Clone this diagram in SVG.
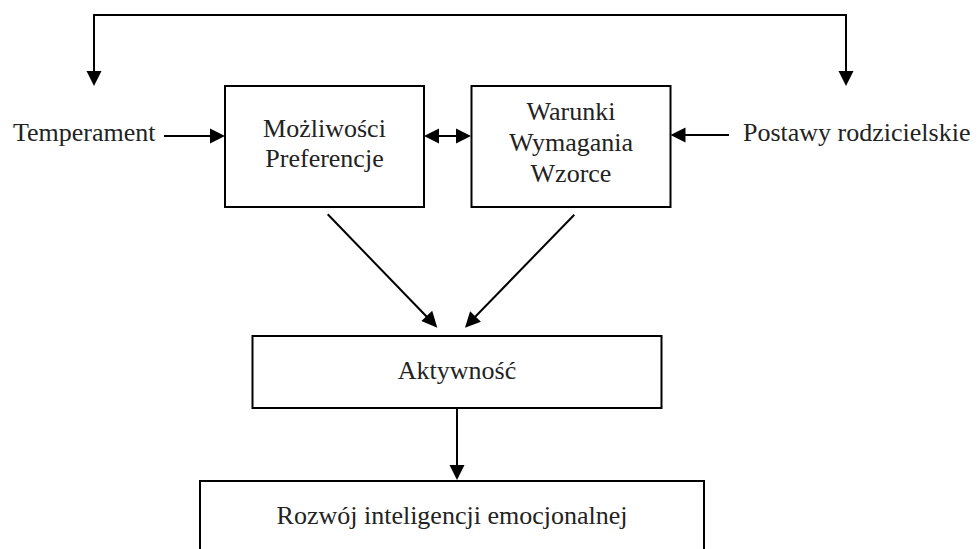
<svg xmlns="http://www.w3.org/2000/svg" width="979" height="549" viewBox="0 0 979 549">
<style>
.box{fill:#fff;stroke:#000;stroke-width:2}
.t{font-family:"Liberation Serif","Times New Roman",serif;font-size:26px;fill:#222}
.c{text-anchor:middle}
.ln{fill:none;stroke:#000;stroke-width:2}
.hd{fill:#000}
</style>
<rect width="979" height="549" fill="#fff"/>
<g id="connectors">
<polyline class="ln" points="94,72 94,15 846,15 846,72"/>
<polygon class="hd" points="86.5,71 101.5,71 94,86"/>
<polygon class="hd" points="838.5,71 853.5,71 846,86"/>
<line class="ln" x1="164" y1="136" x2="211" y2="136"/>
<polygon class="hd" points="210,128.5 225,136 210,143.5"/>
<line class="ln" x1="438" y1="136" x2="458" y2="136"/>
<polygon class="hd" points="439,128.5 424,136 439,143.5"/>
<polygon class="hd" points="456,128.5 471,136 456,143.5"/>
<line class="ln" x1="685" y1="135" x2="729" y2="135"/>
<polygon class="hd" points="685.5,127.5 670.5,135 685.5,142.5"/>
<line class="ln" x1="327.7" y1="214.3" x2="427" y2="317"/>
<polygon class="hd" points="437.3,327.7 421.4,321.1 432.2,310.7"/>
<line class="ln" x1="574.3" y1="214.7" x2="475" y2="317"/>
<polygon class="hd" points="465,327.7 470.1,311.3 480.9,321.7"/>
<line class="ln" x1="457" y1="408" x2="457" y2="466"/>
<polygon class="hd" points="449.5,465 464.5,465 457,480"/>
</g>
<g id="temperament"><text class="t" x="13" y="141">Temperament</text></g>
<g id="postawy"><text class="t" x="743" y="141">Postawy rodzicielskie</text></g>
<g id="mozliwosci">
<rect class="box" x="225" y="86" width="199" height="121"/>
<text class="t c" x="324.5" y="137">Możliwości</text>
<text class="t c" x="324.5" y="167">Preferencje</text>
</g>
<g id="warunki">
<rect class="box" x="471.5" y="86" width="199" height="121"/>
<text class="t c" x="571" y="120">Warunki</text>
<text class="t c" x="571" y="151">Wymagania</text>
<text class="t c" x="571" y="182">Wzorce</text>
</g>
<g id="aktywnosc">
<rect class="box" x="252.5" y="336" width="409" height="72"/>
<text class="t c" x="457" y="379">Aktywność</text>
</g>
<g id="rozwoj">
<rect class="box" x="200" y="481" width="504" height="80"/>
<text class="t c" x="452" y="524">Rozwój inteligencji emocjonalnej</text>
</g>
</svg>
